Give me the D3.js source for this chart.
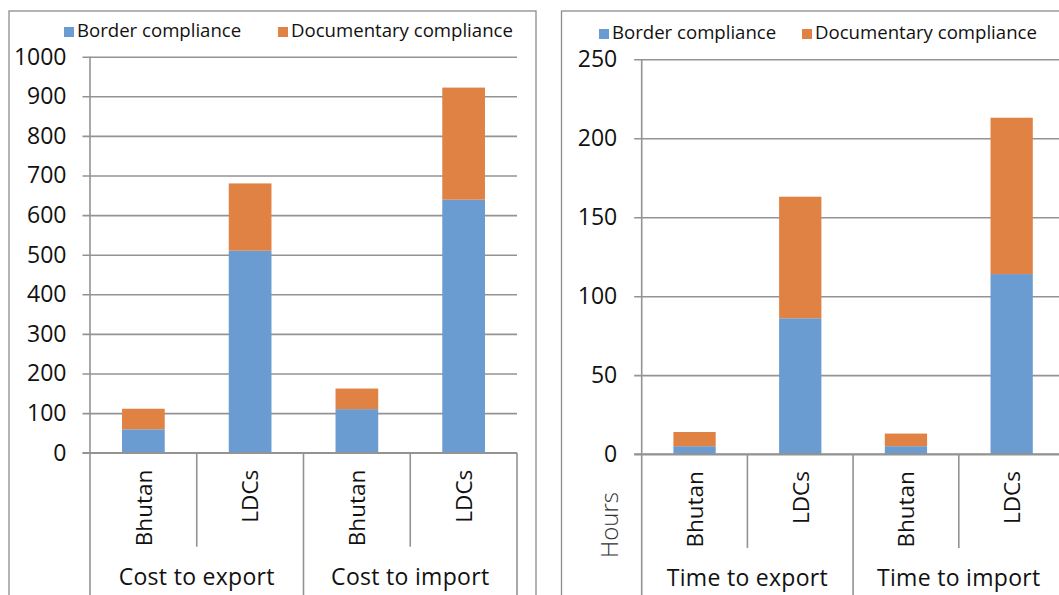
<!DOCTYPE html>
<html>
<head>
<meta charset="utf-8">
<script src="https://cdn.jsdelivr.net/npm/d3@7"></script>
<style>
  body { margin: 0; background: #fff; }
  svg { display: block; font-family: "Open Sans", sans-serif; }
</style>
</head>
<body>
<svg id="chart" width="1059" height="595"></svg>
<script>
// ---- data ----
const economies = ["Bhutan", "LDCs"];
const seriesNames = ["Border compliance", "Documentary compliance"];
const seriesColors = ["#6A9CD2", "#E08244"];

// Cost to comply (US$)
const costGroups = ["Cost to export", "Cost to import"];
const costBorder = [59, 510, 110, 639];
const costDocumentary = [52, 170, 52, 283];
const costTicks = [0, 100, 200, 300, 400, 500, 600, 700, 800, 900, 1000];

// Time to comply (hours)
const timeGroups = ["Time to export", "Time to import"];
const timeBorder = [5, 86, 5, 114];
const timeDocumentary = [9, 77, 8, 99];
const timeTicks = [0, 50, 100, 150, 200, 250];
const timeAxisTitle = "Hours";

// ---- drawing ----
const svg = d3.select("#chart");
const GRID = "#939393";
const FRAME = "#8c8c8c";
const INK = "#111";

function drawPanel(p) {
  const g = svg.append("g");

  // chart frame
  g.append("rect")
    .attr("x", p.frame[0]).attr("y", p.frame[1])
    .attr("width", p.frame[2]).attr("height", p.frame[3])
    .attr("fill", "none").attr("stroke", FRAME).attr("stroke-width", 1.3);

  const rows = p.groups.flatMap((grp, gi) => economies.map((eco, ei) => {
    const i = gi * economies.length + ei;
    return { key: i, group: grp, economy: eco, border: p.border[i], documentary: p.documentary[i] };
  }));

  const y = d3.scaleLinear()
    .domain([0, d3.max(p.ticks)])
    .range([p.yBottom, p.yTop]);

  // bins for the category axis, bars sit inside each bin
  const bins = d3.scaleBand().domain(rows.map(r => r.key)).range([p.x0, p.x1]);
  const x = d3.scaleBand().domain(rows.map(r => r.key)).range([p.x0, p.x1])
    .paddingInner(0.6).paddingOuter(0.3);
  const groupX = d3.scaleBand().domain(p.groups).range([p.x0, p.x1]);

  // value axis with gridlines
  const axis = d3.axisLeft(y).tickValues(p.ticks)
    .tickSize(-(p.x1 - p.x0)).tickPadding(p.labelPad).tickFormat(d3.format("d"));
  const ax = g.append("g").attr("transform", `translate(${p.x0},0)`).call(axis);
  ax.select(".domain").remove();
  ax.selectAll(".tick line").attr("x1", -7.5).attr("stroke", GRID).attr("stroke-width", 1.6);
  ax.selectAll(".tick text")
    .attr("font-size", 23).attr("fill", INK)
    .attr("font-family", "'Open Sans', sans-serif");

  // stacked bars
  const stacked = d3.stack().keys(["border", "documentary"])(rows);
  stacked.forEach((layer, li) => {
    g.append("g").selectAll("rect").data(layer).join("rect")
      .attr("x", d => x(d.data.key))
      .attr("width", x.bandwidth())
      .attr("y", d => y(d[1]))
      .attr("height", d => y(d[0]) - y(d[1]))
      .attr("fill", seriesColors[li]);
  });

  // category axis line
  g.append("line")
    .attr("x1", p.x0 - 7.5).attr("x2", p.x1)
    .attr("y1", p.yBottom).attr("y2", p.yBottom)
    .attr("stroke", GRID).attr("stroke-width", 1.6);

  // vertical axis line and bin separators
  const bounds = d3.range(rows.length + 1).map(i => p.x0 + i * bins.step());
  g.selectAll("line.sep").data(bounds).join("line")
    .attr("class", "sep")
    .attr("x1", d => d).attr("x2", d => d)
    .attr("y1", (d, i) => i === 0 ? p.yTop : p.yBottom)
    .attr("y2", (d, i) => i % economies.length === 0 ? 600 : p.yBottom + 94)
    .attr("stroke", GRID).attr("stroke-width", 1.6);

  // economy labels (rotated)
  g.selectAll("text.eco").data(rows).join("text")
    .attr("class", "eco")
    .attr("transform", d => `translate(${bins(d.key) + bins.bandwidth() / 2},${p.yBottom + 17}) rotate(-90)`)
    .attr("text-anchor", "end")
    .attr("dy", "0.37em")
    .attr("font-size", 22.5).attr("fill", INK)
    .text(d => d.economy);

  // group labels
  g.selectAll("text.grp").data(p.groups).join("text")
    .attr("class", "grp")
    .attr("x", d => groupX(d) + groupX.bandwidth() / 2)
    .attr("y", p.yBottom + 132)
    .attr("text-anchor", "middle")
    .attr("font-size", 23).attr("letter-spacing", 0.3).attr("fill", INK)
    .text(d => d);

  // legend
  const lg = g.append("g");
  seriesNames.forEach((name, i) => {
    lg.append("rect")
      .attr("x", p.legendX[i]).attr("y", p.legendY - 10)
      .attr("width", 10).attr("height", 10)
      .attr("fill", seriesColors[i]);
    lg.append("text")
      .attr("x", p.legendX[i] + 13).attr("y", p.legendY)
      .attr("font-size", 18.6).attr("fill", INK)
      .text(name);
  });

  // value axis title
  if (p.title) {
    g.append("text")
      .attr("transform", `translate(${p.titlePos[0]},${p.titlePos[1]}) rotate(-90)`)
      .attr("text-anchor", "middle")
      .attr("dy", "0.36em")
      .attr("font-size", 24).attr("font-weight", 300).attr("fill", "#333")
      .text(p.title);
  }
}

drawPanel({
  groups: costGroups, border: costBorder, documentary: costDocumentary, ticks: costTicks,
  frame: [9, 11, 527, 600],
  x0: 90, x1: 517, yTop: 56.7, yBottom: 452.7, labelPad: 23.5,
  legendX: [64, 278], legendY: 37
});

drawPanel({
  groups: timeGroups, border: timeBorder, documentary: timeDocumentary, ticks: timeTicks,
  frame: [561.5, 11, 600, 600],
  x0: 641.7, x1: 1064.5, yTop: 59.3, yBottom: 454.1, labelPad: 24.5,
  legendX: [599, 802], legendY: 39,
  title: timeAxisTitle, titlePos: [609, 525]
});
</script>
</body>
</html>
